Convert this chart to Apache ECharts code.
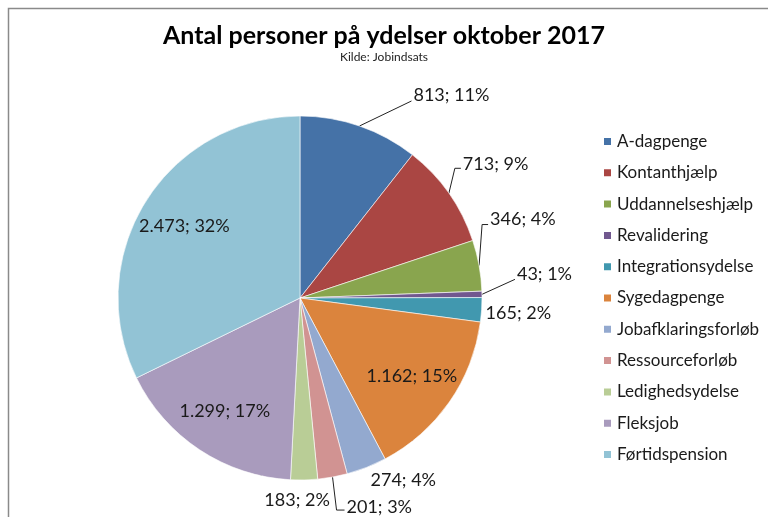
<!DOCTYPE html>
<html>
<head>
<meta charset="utf-8">
<script src="https://cdn.jsdelivr.net/npm/echarts@6/dist/echarts.min.js"></script>
<style>
  html, body { margin: 0; padding: 0; background: #fff; }
  #chart { width: 768px; height: 517px; }
</style>
</head>
<body>
<div id="chart"></div>
<script>
// data (Jobindsats, oktober 2017)
const categories = ['A-dagpenge', 'Kontanthjælp', 'Uddannelseshjælp', 'Revalidering', 'Integrationsydelse',
  'Sygedagpenge', 'Jobafklaringsforløb', 'Ressourceforløb', 'Ledighedsydelse', 'Fleksjob', 'Førtidspension'];
const persons = [813, 713, 346, 43, 165, 1162, 274, 201, 183, 1299, 2473];
const percentLabels = [11, 9, 4, 1, 2, 15, 4, 3, 2, 17, 32];

const colors = ['#4572A7', '#AA4643', '#89A54E', '#71588F', '#4198AF', '#DB843D',
  '#93A9CF', '#D19392', '#B9CD96', '#A99BBD', '#92C3D5'];

const FONT = 'Lato';
const CX = 300, CY = 298, R = 182;

// slices whose label sits inside the pie
const insideLabels = ['Sygedagpenge', 'Fleksjob', 'Førtidspension'];
// label offsets from the slice edge point (dx, dy), line bend (k) and line drop (ly)
const labelPlace = {
  'A-dagpenge':         { dx: 54,  dy: -31, k: 2,  ly: 6 },
  'Kontanthjælp':       { dx: 14,  dy: -29, k: 8,  ly: 4 },
  'Uddannelseshjælp':   { dx: 11,  dy: -46, k: 8,  ly: 5 },
  'Revalidering':       { dx: 35,  dy: -20, k: 2,  ly: 5 },
  'Integrationsydelse': { dx: 4,   dy: 3,   line: false },
  'Jobafklaringsforløb':{ dx: 4,   dy: 13,  line: false },
  'Ressourceforløb':    { dx: 14,  dy: 30,  k: 10, ly: 3 },
  'Ledighedsydelse':    { dx: -7,  dy: 20,  line: false, align: 'center' }
};

function fmt(v) {
  return String(v).replace(/\B(?=(\d{3})+(?!\d))/g, '.');
}

const pieData = categories.map(function (name, i) {
  const item = { name: name, value: persons[i], itemStyle: { color: colors[i] } };
  if (insideLabels.indexOf(name) >= 0) {
    item.label = { position: 'inside' };
  }
  return item;
});

const chart = echarts.init(document.getElementById('chart'));

chart.setOption({
  backgroundColor: '#fff',
  animation: false,
  title: {
    text: 'Antal personer på ydelser oktober 2017',
    subtext: 'Kilde: Jobindsats',
    left: 'center',
    top: 18,
    itemGap: 3,
    textStyle: { fontFamily: FONT, fontSize: 25, fontWeight: 'bold', color: '#000' },
    subtextStyle: { fontFamily: FONT, fontSize: 12, color: '#222' }
  },
  legend: {
    orient: 'vertical',
    left: 602,
    top: 133,
    padding: 0,
    itemWidth: 9,
    itemHeight: 9,
    itemGap: 14.3,
    icon: 'rect',
    data: categories,
    textStyle: { fontFamily: FONT, fontSize: 17, lineHeight: 16, color: '#1a1a1a' }
  },
  graphic: [{
    type: 'rect',
    silent: true,
    shape: { x: 8.5, y: 8.5, width: 900, height: 700 },
    style: { fill: 'none', stroke: '#8a8a8a', lineWidth: 1.5 }
  }],
  series: [{
    type: 'pie',
    center: [CX, CY],
    radius: R,
    startAngle: 90,
    clockwise: true,
    avoidLabelOverlap: false,
    data: pieData,
    itemStyle: { borderColor: '#fff', borderWidth: 0.6 },
    label: {
      show: true,
      position: 'outside',
      fontFamily: FONT,
      fontSize: 18,
      color: '#1a1a1a',
      formatter: function (p) {
        return fmt(p.value) + '; ' + percentLabels[p.dataIndex] + '%';
      }
    },
    labelLine: {
      show: true,
      length: 10,
      length2: 5,
      lineStyle: { color: '#222', width: 1 }
    },
    emphasis: { scale: false }
  }]
});

// move labels to where the reference puts them, anchored on the slice geometry
chart.setOption({
  series: [{
    labelLayout: function (p) {
      const name = categories[p.dataIndex];
      if (insideLabels.indexOf(name) >= 0) {
        const r = p.labelRect;
        const lx = r.x + r.width / 2, ly = r.y + r.height / 2;
        return {
          x: CX + (lx - CX) * 1.45,
          y: CY + (ly - CY) * 1.45,
          align: 'center',
          verticalAlign: 'middle'
        };
      }
      const o = labelPlace[name];
      if (!o || !p.labelLinePoints) return {};
      const e = p.labelLinePoints[0];
      const tx = e[0] + o.dx, cy = e[1] + o.dy;
      let pts;
      if (o.line === false) {
        pts = [e, e, e];
      } else {
        pts = [e, [tx - o.k, cy + o.ly], [tx - 2, cy + o.ly]];
      }
      return {
        x: tx,
        y: cy,
        align: o.align || 'left',
        verticalAlign: 'middle',
        labelLinePoints: pts
      };
    }
  }]
});
</script>
</body>
</html>
